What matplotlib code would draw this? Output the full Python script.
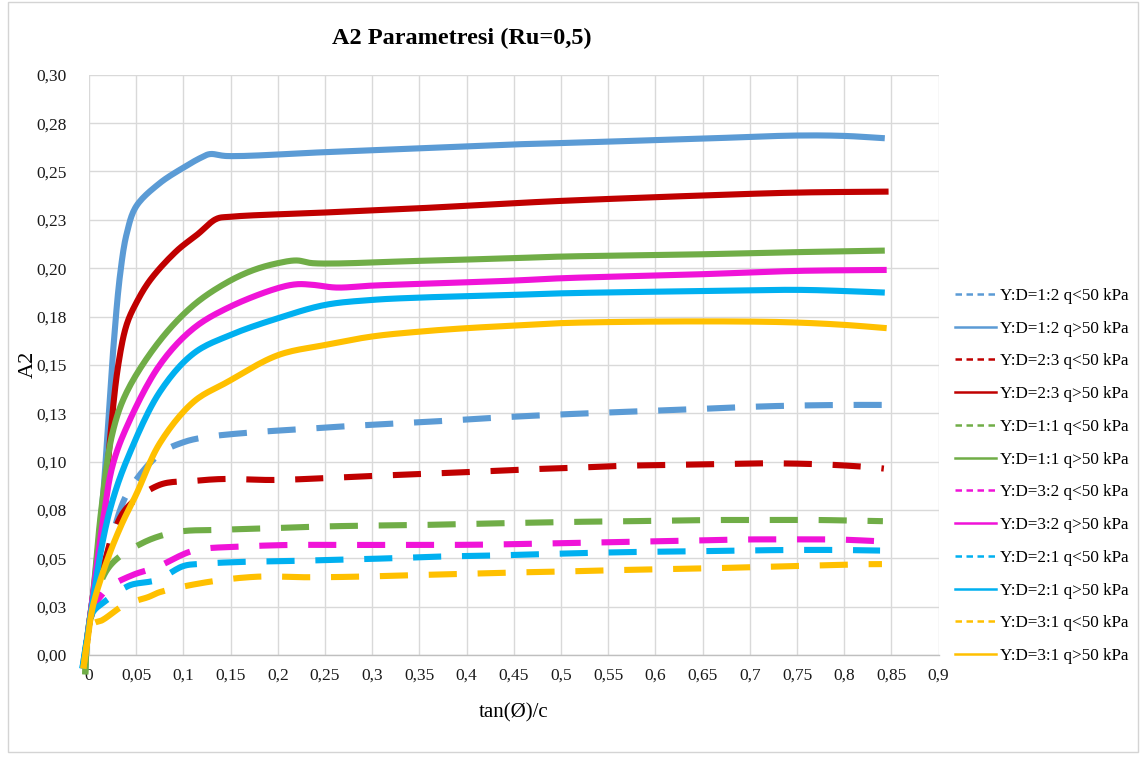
import numpy as np
import matplotlib
matplotlib.use("Agg")
import matplotlib.pyplot as plt
from matplotlib.lines import Line2D
from matplotlib.patches import Rectangle

plt.rcParams['font.family'] = ['Liberation Serif', 'DejaVu Serif']

# ---------------- data ----------------
title = "A2 Parametresi (Ru=0,5)"
x_label = "tan(Ø)/c"
y_label = "A2"

x_ticks = [0, 0.05, 0.1, 0.15, 0.2, 0.25, 0.3, 0.35, 0.4, 0.45, 0.5, 0.55,
           0.6, 0.65, 0.7, 0.75, 0.8, 0.85, 0.9]
x_tick_labels = ["0", "0,05", "0,1", "0,15", "0,2", "0,25", "0,3", "0,35", "0,4",
                 "0,45", "0,5", "0,55", "0,6", "0,65", "0,7", "0,75", "0,8", "0,85", "0,9"]
y_ticks = [0, 0.025, 0.05, 0.075, 0.1, 0.125, 0.15, 0.175, 0.2, 0.225, 0.25, 0.275, 0.3]
y_tick_labels = ["0,00", "0,03", "0,05", "0,08", "0,10", "0,13", "0,15", "0,18",
                 "0,20", "0,23", "0,25", "0,28", "0,30"]

series_labels = ["Y:D=1:2 q<50 kPa", "Y:D=1:2 q>50 kPa",
                 "Y:D=2:3 q<50 kPa", "Y:D=2:3 q>50 kPa",
                 "Y:D=1:1 q<50 kPa", "Y:D=1:1 q>50 kPa",
                 "Y:D=3:2 q<50 kPa", "Y:D=3:2 q>50 kPa",
                 "Y:D=2:1 q<50 kPa", "Y:D=2:1 q>50 kPa",
                 "Y:D=3:1 q<50 kPa", "Y:D=3:1 q>50 kPa"]

# Y:D=1:2
x_12_lo = [-0.006, -0.002, 0.004, 0.015, 0.022, 0.04, 0.075, 0.1, 0.123, 0.17, 0.223, 0.276,
           0.329, 0.381, 0.434, 0.487, 0.54, 0.593, 0.646, 0.699, 0.752, 0.805, 0.855]
y_12_lo = [-0.006, 0.008, 0.024, 0.045, 0.0565, 0.083, 0.104, 0.110, 0.1126, 0.115, 0.1167, 0.1184,
           0.1198, 0.1212, 0.1228, 0.1241, 0.1252, 0.1262, 0.1272, 0.1283, 0.129, 0.1293, 0.1293]
x_12_hi = [-0.006, -0.002, 0.004, 0.015, 0.02, 0.026, 0.033, 0.04, 0.05, 0.075, 0.1, 0.118,
           0.128, 0.146, 0.25, 0.35, 0.45, 0.5, 0.65, 0.75, 0.8, 0.843]
y_12_hi = [-0.006, 0.008, 0.03, 0.083, 0.118, 0.160, 0.197, 0.218, 0.232, 0.244, 0.252, 0.257,
           0.259, 0.258, 0.260, 0.262, 0.264, 0.2647, 0.267, 0.2686, 0.2684, 0.2672]

# Y:D=2:3
x_23_lo = [-0.006, -0.002, 0.004, 0.015, 0.025, 0.04, 0.075, 0.111, 0.142, 0.195, 0.248, 0.301,
           0.354, 0.406, 0.459, 0.508, 0.564, 0.617, 0.67, 0.722, 0.775, 0.828, 0.842]
y_23_lo = [-0.006, 0.008, 0.024, 0.045, 0.062, 0.076, 0.088, 0.090, 0.091, 0.0905, 0.0914, 0.0926,
           0.0936, 0.0947, 0.0959, 0.0967, 0.0978, 0.0983, 0.0988, 0.0991, 0.0986, 0.0971, 0.0964]
x_23_hi = [-0.006, -0.002, 0.004, 0.015, 0.022, 0.031, 0.04, 0.05, 0.065, 0.093, 0.115, 0.135,
           0.15, 0.25, 0.35, 0.45, 0.5, 0.65, 0.75, 0.847]
y_23_hi = [-0.006, 0.008, 0.03, 0.065, 0.11, 0.15, 0.171, 0.182, 0.194, 0.209, 0.2175, 0.2255,
           0.2266, 0.2288, 0.231, 0.2336, 0.2348, 0.2376, 0.2391, 0.2396]

# Y:D=1:1
x_11_lo = [-0.004, -0.002, 0.004, 0.022, 0.057, 0.093, 0.137, 0.19, 0.243, 0.296, 0.349, 0.402,
           0.454, 0.506, 0.562, 0.615, 0.668, 0.72, 0.773, 0.826, 0.841]
y_11_lo = [-0.010, 0.008, 0.025, 0.046, 0.058, 0.0636, 0.0647, 0.0655, 0.0664, 0.0669, 0.0672, 0.0678,
           0.0683, 0.0688, 0.0691, 0.0695, 0.0698, 0.0698, 0.0698, 0.0693, 0.0692]
x_11_hi = [-0.004, -0.002, 0.004, 0.013, 0.025, 0.04, 0.075, 0.111, 0.146, 0.174, 0.2,
           0.22, 0.237, 0.35, 0.45, 0.5, 0.65, 0.75, 0.843]
y_11_hi = [-0.010, 0.008, 0.03, 0.075, 0.115, 0.136, 0.1625, 0.181, 0.1926, 0.199, 0.2026,
           0.204, 0.2026, 0.2038, 0.2052, 0.206, 0.2072, 0.2083, 0.2091]

# Y:D=3:2
x_32_lo = [-0.006, -0.002, 0.004, 0.015, 0.022, 0.047, 0.072, 0.111, 0.16, 0.213, 0.266, 0.319,
           0.372, 0.425, 0.477, 0.53, 0.583, 0.636, 0.689, 0.742, 0.794, 0.838]
y_32_lo = [-0.006, 0.008, 0.024, 0.032, 0.0355, 0.0415, 0.0455, 0.054, 0.056, 0.0569, 0.0569, 0.0569,
           0.0569, 0.0571, 0.0576, 0.0581, 0.0586, 0.0591, 0.0597, 0.0598, 0.0597, 0.0588]
x_32_hi = [-0.006, -0.002, 0.004, 0.015, 0.025, 0.04, 0.075, 0.111, 0.15, 0.2, 0.22,
           0.237, 0.262, 0.3, 0.35, 0.45, 0.5, 0.65, 0.75, 0.845]
y_32_hi = [-0.006, 0.008, 0.03, 0.07, 0.098, 0.118, 0.150, 0.169, 0.1802, 0.1897, 0.1917,
           0.1914, 0.190, 0.191, 0.1919, 0.1936, 0.1948, 0.1969, 0.1986, 0.1991]

# Y:D=2:1
x_21_lo = [-0.007, -0.003, 0.004, 0.015, 0.022, 0.043, 0.072, 0.1, 0.118, 0.16, 0.213, 0.266,
           0.319, 0.372, 0.425, 0.477, 0.53, 0.583, 0.636, 0.689, 0.742, 0.794, 0.838]
y_21_lo = [-0.007, 0.006, 0.022, 0.027, 0.0295, 0.036, 0.0388, 0.046, 0.0471, 0.0481, 0.0486, 0.0493,
           0.050, 0.0509, 0.0514, 0.0521, 0.0528, 0.0533, 0.0536, 0.054, 0.0543, 0.0543, 0.054]
x_21_hi = [-0.007, -0.003, 0.004, 0.015, 0.025, 0.04, 0.075, 0.111, 0.15, 0.2, 0.25,
           0.3, 0.35, 0.45, 0.5, 0.65, 0.75, 0.8, 0.843]
y_21_hi = [-0.007, 0.006, 0.028, 0.06, 0.08, 0.1007, 0.136, 0.156, 0.1655, 0.1741, 0.181,
           0.1836, 0.1848, 0.1862, 0.187, 0.1882, 0.1888, 0.1882, 0.1874]

# Y:D=3:1
x_31_lo = [-0.006, -0.002, 0.004, 0.014, 0.038, 0.063, 0.075, 0.128, 0.179, 0.232, 0.285, 0.338,
           0.391, 0.444, 0.496, 0.55, 0.603, 0.655, 0.708, 0.761, 0.814, 0.84]
y_31_lo = [-0.007, 0.006, 0.016, 0.018, 0.026, 0.030, 0.0325, 0.0379, 0.0405, 0.0402, 0.0405, 0.0412,
           0.0419, 0.0426, 0.0431, 0.0438, 0.0443, 0.0448, 0.0455, 0.0462, 0.0469, 0.047]
x_31_hi = [-0.006, -0.002, 0.004, 0.02, 0.035, 0.05, 0.075, 0.111, 0.146, 0.2, 0.25,
           0.3, 0.35, 0.4, 0.45, 0.5, 0.6, 0.7, 0.75, 0.8, 0.845]
y_31_hi = [-0.007, 0.006, 0.025, 0.05, 0.068, 0.083, 0.1095, 0.131, 0.141, 0.155, 0.1603,
           0.1647, 0.1672, 0.169, 0.1703, 0.1716, 0.1724, 0.1724, 0.1719, 0.1707, 0.169]

xs = [x_12_lo, x_12_hi, x_23_lo, x_23_hi, x_11_lo, x_11_hi,
      x_32_lo, x_32_hi, x_21_lo, x_21_hi, x_31_lo, x_31_hi]
ys = [y_12_lo, y_12_hi, y_23_lo, y_23_hi, y_11_lo, y_11_hi,
      y_32_lo, y_32_hi, y_21_lo, y_21_hi, y_31_lo, y_31_hi]

# ---------------- style ----------------
colors = ["#5B9BD5", "#5B9BD5", "#C00000", "#C00000", "#70AD47", "#70AD47",
          "#F013D8", "#F013D8", "#00B0F0", "#00B0F0", "#FFC000", "#FFC000"]
dashed = [True, False] * 6


def smooth(x, y, n=14, yscale=2.0):
    """Centripetal Catmull-Rom rendering of a polyline (like Excel's smoothed line)."""
    P = np.column_stack([np.asarray(x, float), np.asarray(y, float) * yscale])
    P = np.vstack([2 * P[0] - P[1], P, 2 * P[-1] - P[-2]])
    out = [P[1]]
    for i in range(1, len(P) - 2):
        p0, p1, p2, p3 = P[i - 1], P[i], P[i + 1], P[i + 2]
        t0 = 0.0
        t1 = t0 + max(np.linalg.norm(p1 - p0), 1e-9) ** 0.5
        t2 = t1 + max(np.linalg.norm(p2 - p1), 1e-9) ** 0.5
        t3 = t2 + max(np.linalg.norm(p3 - p2), 1e-9) ** 0.5
        for t in np.linspace(t1, t2, n)[1:]:
            a1 = (t1 - t) / (t1 - t0) * p0 + (t - t0) / (t1 - t0) * p1
            a2 = (t2 - t) / (t2 - t1) * p1 + (t - t1) / (t2 - t1) * p2
            a3 = (t3 - t) / (t3 - t2) * p2 + (t - t2) / (t3 - t2) * p3
            b1 = (t2 - t) / (t2 - t0) * a1 + (t - t0) / (t2 - t0) * a2
            b2 = (t3 - t) / (t3 - t1) * a2 + (t - t1) / (t3 - t1) * a3
            c = (t2 - t) / (t2 - t1) * b1 + (t - t1) / (t2 - t1) * b2
            out.append(c)
    out = np.array(out)
    return out[:, 0], out[:, 1] / yscale


W, H = 1142, 760
fig = plt.figure(figsize=(W / 100, H / 100), dpi=100)
fig.patch.set_facecolor("white")

# chart-area border
fig.patches.append(Rectangle((8 / W, 8 / H), (W - 12) / W, (H - 10) / H,
                             transform=fig.transFigure, fill=False,
                             edgecolor="#D4D4D4", linewidth=1.0))

ax = fig.add_axes([89 / W, 1 - 655 / H, (938.6 - 89) / W, (655 - 74.8) / H])
ax.set_xlim(0, 0.9)
ax.set_ylim(0, 0.30)
ax.set_xticks(x_ticks)
ax.set_xticklabels(x_tick_labels)
ax.set_yticks(y_ticks)
ax.set_yticklabels(y_tick_labels)
ax.tick_params(axis='both', length=0, labelsize=12.5, colors="#1a1a1a")
ax.tick_params(axis='y', pad=16)
ax.tick_params(axis='x', pad=9)
ax.grid(True, color="#D9D9D9", linewidth=1.0)
ax.set_axisbelow(True)
for s in ["top", "right", "left"]:
    ax.spines[s].set_visible(False)
ax.spines["bottom"].set_color("#BFBFBF")
ax.spines["bottom"].set_linewidth(1.0)

lw = 4.4
for x, y, c, d in zip(xs, ys, colors, dashed):
    sx, sy = smooth(x, y)
    line, = ax.plot(sx, sy, color=c, linewidth=lw, clip_on=False,
                    solid_capstyle='butt', dash_capstyle='butt',
                    solid_joinstyle='round')
    if d:
        line.set_dashes((4.6, 3.4))

ax.set_xlabel(x_label, fontsize=15, labelpad=14)
fig.text(28 / W, 1 - 364 / H, y_label, fontsize=16, rotation=90,
         ha='center', va='center')

fig.text(462 / W, 1 - 38 / H, title, fontsize=17.5, fontweight='bold',
         ha='center', va='center')

handles = []
for c, d in zip(colors, dashed):
    h = Line2D([], [], color=c, linewidth=1.8)
    if d:
        h.set_dashes((2.6, 1.8))
    handles.append(h)
fig.legend(handles, series_labels, loc='upper left',
           bbox_to_anchor=(948 / W, 1 - 281 / H), frameon=False,
           fontsize=12.3, handlelength=2.4, handletextpad=0.25,
           labelspacing=0.98, borderaxespad=0)

fig.savefig("out.png", dpi=100, facecolor="white")
